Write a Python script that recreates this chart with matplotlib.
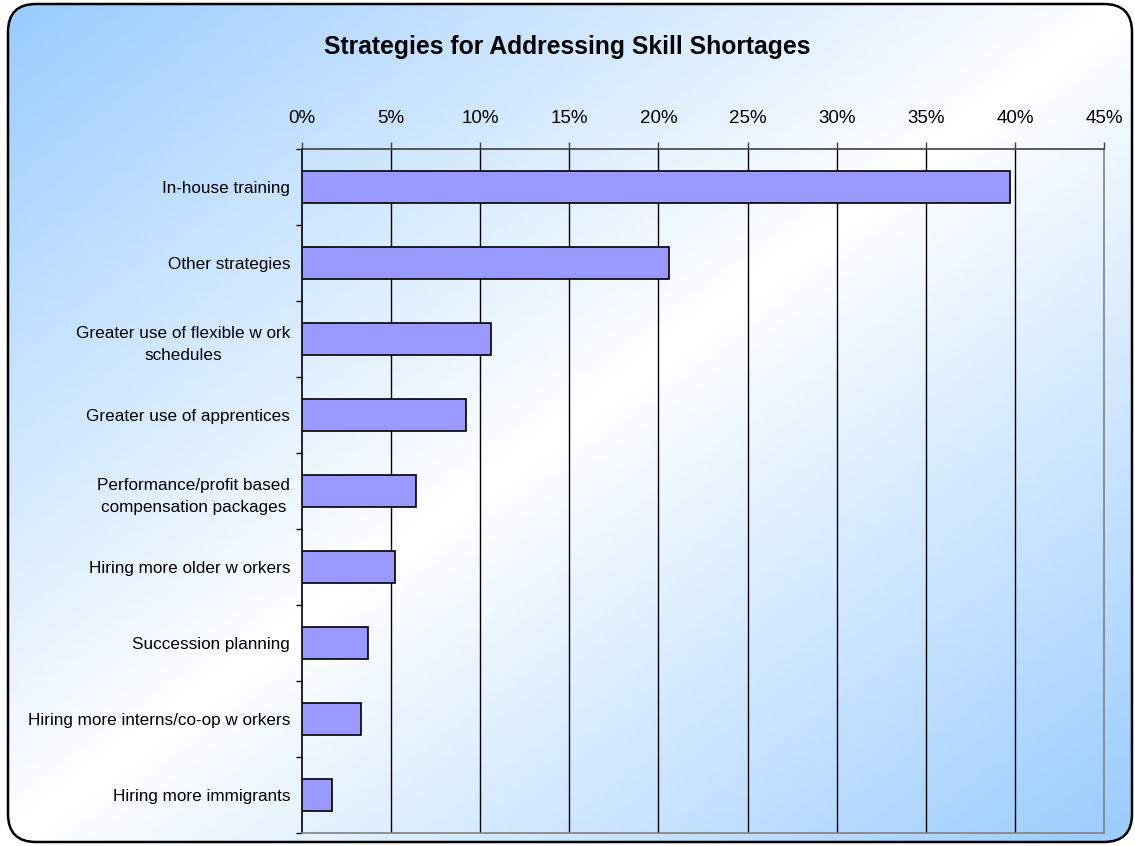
import numpy as np
import matplotlib
matplotlib.use('Agg')
import matplotlib.pyplot as plt
from matplotlib.patches import FancyBboxPatch
from matplotlib.ticker import FixedLocator, FuncFormatter

plt.rcParams['font.family'] = ['Liberation Sans', 'DejaVu Sans']

# survey shares (fraction of respondents)
strategies = ['In-house training',
              'Other strategies',
              'Greater use of flexible w ork\nschedules',
              'Greater use of apprentices',
              'Performance/profit based\ncompensation packages',
              'Hiring more older w orkers',
              'Succession planning',
              'Hiring more interns/co-op w orkers',
              'Hiring more immigrants']
shares = [0.397, 0.206, 0.106, 0.092, 0.064, 0.052, 0.037, 0.033, 0.017]
pct_ticks = [0, 0.05, 0.10, 0.15, 0.20, 0.25, 0.30, 0.35, 0.40, 0.45]

W, H = 1135, 846
fig = plt.figure(figsize=(W/100, H/100), dpi=100)
fig.patch.set_facecolor('white')

# background: diagonal blue-white-blue gradient inside a rounded frame
bg = fig.add_axes([0, 0, 1, 1])
bg.set_xlim(0, W)
bg.set_ylim(H, 0)
bg.axis('off')
xx, yy = np.meshgrid(np.linspace(0, 1, 300), np.linspace(0, 1, 240))
t = np.abs((xx + yy) - 1.0)
blue = np.array([153, 204, 255]) / 255.0
white = np.array([1.0, 1.0, 1.0])
img = white + (blue - white) * t[..., None]
frame = FancyBboxPatch((8, 4), 1124, 838, boxstyle='round,pad=0,rounding_size=28',
                       facecolor='none', edgecolor='black', lw=1.8, zorder=3)
bg.add_patch(frame)
im = bg.imshow(img, extent=[8, 1132, 842, 4], aspect='auto', zorder=1)
im.set_clip_path(frame)

fig.text(0.5, 1 - 47/H, 'Strategies for Addressing Skill Shortages',
         ha='center', va='center', fontsize=17.8, fontweight='bold')

ax = fig.add_axes([302/W, 1 - 833/H, 802/W, 684/H])
ax.patch.set_visible(False)
y = np.arange(len(strategies))
ax.barh(y, shares, height=0.41, color='#9999FF', edgecolor='black', lw=1.2, zorder=3)

ax.set_xlim(0, 0.45)
ax.set_ylim(len(strategies) - 0.5, -0.5)
ax.xaxis.set_major_locator(FixedLocator(pct_ticks))
ax.xaxis.set_major_formatter(FuncFormatter(lambda v, p: '%d%%' % round(v * 100)))
ax.xaxis.tick_top()
ax.tick_params(axis='x', direction='out', length=5, width=1, color='#404040',
               labelsize=13.5, pad=10.5)

ax.set_yticks(y)
ax.set_yticklabels(strategies, fontsize=12.3, multialignment='center', linespacing=1.6)
ax.set_yticks(np.arange(len(strategies) + 1) - 0.5, minor=True)
ax.tick_params(axis='y', which='major', length=0, pad=8.5)
ax.tick_params(axis='y', which='minor', direction='out', length=4, width=1, color='black')

for v in pct_ticks[1:-1]:
    ax.axvline(v, color='black', lw=1, zorder=1)

ax.spines['top'].set_color('#404040')
ax.spines['left'].set_color('black')
ax.spines['right'].set_color('#808080')
ax.spines['bottom'].set_color('#808080')
for s in ax.spines.values():
    s.set_linewidth(1.2)

fig.savefig('out.png', dpi=100)
plt.close()
